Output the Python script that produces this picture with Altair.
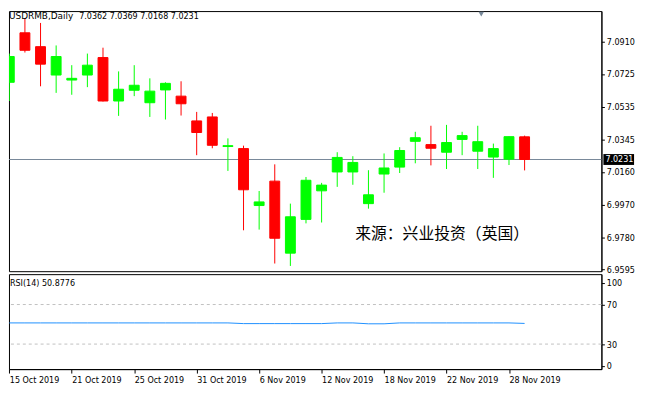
import altair as alt
import pandas as pd

# ---------------- data ----------------
dates = ["15 Oct 2019", "16 Oct 2019", "17 Oct 2019", "18 Oct 2019", "21 Oct 2019",
         "22 Oct 2019", "23 Oct 2019", "24 Oct 2019", "25 Oct 2019", "28 Oct 2019",
         "29 Oct 2019", "30 Oct 2019", "31 Oct 2019", "1 Nov 2019", "4 Nov 2019",
         "5 Nov 2019", "6 Nov 2019", "7 Nov 2019", "8 Nov 2019", "11 Nov 2019",
         "12 Nov 2019", "13 Nov 2019", "14 Nov 2019", "15 Nov 2019", "18 Nov 2019",
         "19 Nov 2019", "20 Nov 2019", "21 Nov 2019", "22 Nov 2019", "25 Nov 2019",
         "26 Nov 2019", "27 Nov 2019", "28 Nov 2019", "29 Nov 2019"]

opens = [7.0677, 7.0963, 7.0883, 7.0719, 7.0690, 7.0719, 7.0820, 7.0569, 7.0631, 7.0559,
         7.0633, 7.0597, 7.0454, 7.0477, 7.0306, 7.0294, 6.9965, 7.0106, 6.9690, 6.9885,
         7.0050, 7.0159, 7.0159, 6.9976, 7.0147, 7.0187, 7.0336, 7.0317, 7.0273, 7.0347,
         7.0279, 7.0245, 7.0233, 7.0362]
highs = [7.0843, 7.1043, 7.1020, 7.0890, 7.0776, 7.0843, 7.0877, 7.0740, 7.0776, 7.0700,
         7.0677, 7.0683, 7.0506, 7.0500, 7.0353, 7.0311, 7.0049, 7.0203, 6.9976, 7.0130,
         7.0096, 7.0273, 7.0250, 7.0169, 7.0266, 7.0302, 7.0391, 7.0426, 7.0431, 7.0391,
         7.0426, 7.0323, 7.0364, 7.0369]
lows = [7.0569, 7.0849, 7.0654, 7.0616, 7.0605, 7.0649, 7.0566, 7.0483, 7.0597, 7.0477,
        7.0462, 7.0485, 7.0256, 7.0296, 7.0165, 6.9822, 6.9826, 6.9630, 6.9616, 6.9862,
        6.9867, 7.0073, 7.0085, 6.9947, 7.0039, 7.0153, 7.0209, 7.0197, 7.0176, 7.0256,
        7.0176, 7.0125, 7.0199, 7.0168]
closes = [7.0826, 7.0862, 7.0782, 7.0826, 7.0700, 7.0776, 7.0569, 7.0637, 7.0660, 7.0626,
          7.0671, 7.0553, 7.0387, 7.0313, 7.0311, 7.0056, 6.9986, 6.9776, 6.9900, 7.0111,
          7.0083, 7.0243, 7.0214, 7.0027, 7.0182, 7.0283, 7.0357, 7.0296, 7.0329, 7.0369,
          7.0334, 7.0294, 7.0363, 7.0231]
rsi_values = [51.4, 51.4, 51.4, 51.4, 51.4, 51.4, 51.4, 51.4, 51.4, 51.4,
              51.4, 51.4, 51.4, 51.4, 51.4, 50.7, 50.7, 50.7, 50.7, 50.7,
              50.7, 51.4, 51.4, 50.5, 50.5, 51.4, 51.4, 51.4, 51.4, 51.4,
              51.4, 51.4, 51.4, 50.88]

price_ticks = [7.0910, 7.0725, 7.0535, 7.0345, 7.0160, 6.9970, 6.9780, 6.9595]
rsi_levels = [70, 30]
rsi_ticks = [8, 30, 70, 92]          # 8 and 92 carry the window's "0" and "100" labels
date_tick_idx = [0, 4, 8, 12, 16, 20, 24, 28, 32]
symbol = "USDRMB,Daily"
rsi_label = "RSI(14) 50.8776"
source_text = "来源：兴业投资（英国）"

# ---------------- frames ----------------
df = pd.DataFrame({"i": list(range(len(dates))), "date": dates, "open": opens,
                   "high": highs, "low": lows, "close": closes, "rsi": rsi_values})
df["dir"] = ["up" if c >= o else "down" for o, c in zip(opens, closes)]
last = pd.DataFrame({"p": [closes[-1]], "txt": [f"{closes[-1]:.4f}"]})
levels = pd.DataFrame({"level": rsi_levels})
one = pd.DataFrame({"a": [0]})

FONT = "DejaVu Sans Condensed"
W = 599
H_MAIN = 263
H_RSI = 96

xscale = alt.Scale(domain=[-0.02, 37.92], nice=False, zero=False, padding=0)
yscale = alt.Scale(domain=[6.95857, 7.10886], nice=False, zero=False, padding=0)
rscale = alt.Scale(domain=[4.7, 100.7], nice=False, zero=False, padding=0)

color_scale = alt.Scale(domain=["up", "down"], range=["#00FF00", "#FF0000"])

yaxis = alt.Axis(orient="right", values=price_ticks, format=".4f", tickSize=3,
                 labelPadding=2, title=None, grid=False)


def X(field="i"):
    return alt.X(f"{field}:Q", scale=xscale, axis=None)


def Y(field):
    return alt.Y(f"{field}:Q", scale=yscale, axis=yaxis)


price_line = alt.Chart(last).mark_rule(color="#778899", strokeWidth=1).encode(y=Y("p"))

wicks = alt.Chart(df).mark_rule(strokeWidth=1, clip=True).encode(
    x=X(), y=Y("low"), y2="high",
    color=alt.Color("dir:N", scale=color_scale, legend=None))

bodies = alt.Chart(df).mark_bar(size=10, strokeWidth=1, clip=True).encode(
    x=X(), y=Y("open"), y2="close",
    color=alt.Color("dir:N", scale=color_scale, legend=None),
    stroke=alt.Stroke("dir:N", scale=color_scale, legend=None))

header_sym = alt.Chart(one).mark_text(align="left", baseline="alphabetic",
                                      font="DejaVu Sans", fontSize=9, color="black").encode(
    x=alt.value(0), y=alt.value(8), text=alt.value(symbol))
header_ohlc = alt.Chart(one).mark_text(align="left", baseline="alphabetic", font=FONT,
                                       fontSize=9, color="black").encode(
    x=alt.value(71), y=alt.value(8),
    text=alt.value(f"{opens[-1]:.4f} {highs[-1]:.4f} {lows[-1]:.4f} {closes[-1]:.4f}"))

source = alt.Chart(one).mark_text(align="left", baseline="middle", font="Noto Sans CJK SC",
                                  fontSize=16, color="black").encode(
    x=alt.value(350), y=alt.value(225), text=alt.value(source_text))

shift_marker = alt.Chart(one).mark_point(shape="triangle-down", filled=True, size=30,
                                         color="#778899", opacity=1).encode(
    x=alt.value(477.5), y=alt.value(3))

price_box = alt.Chart(last).mark_rule(color="black", strokeWidth=11, strokeCap="butt").encode(
    y=Y("p"), x=alt.value(601), x2=alt.value(632))
price_txt = alt.Chart(last).mark_text(align="left", baseline="middle", font=FONT,
                                      fontSize=9, color="white").encode(
    y=Y("p"), x=alt.value(603), text="txt:N")

main = alt.layer(price_line, wicks, bodies, header_sym, header_ohlc, source, shift_marker,
                 price_box, price_txt).properties(width=W, height=H_MAIN)

# ---------------- RSI panel ----------------
label_array = "[" + ",".join(f"'{dates[k]}'" for k in range(len(dates))) + "]"
xaxis_r = alt.Axis(values=date_tick_idx, labelExpr=f"{label_array}[datum.value]",
                   labelAlign="left", labelFlush=False, labelOverlap=False,
                   tickSize=4, labelPadding=3, title=None, grid=False)
raxis = alt.Axis(orient="right", values=rsi_ticks, tickSize=3, labelPadding=2,
                 title=None, grid=False,
                 labelExpr="datum.value == 92 ? '100' : datum.value == 8 ? '0' : datum.label")


def XR():
    return alt.X("i:Q", scale=xscale, axis=xaxis_r)


def YR(field):
    return alt.Y(f"{field}:Q", scale=rscale, axis=raxis)


lvl = alt.Chart(levels).mark_rule(color="#C0C0C0", strokeDash=[3, 3], strokeWidth=1).encode(
    y=YR("level"))
rsi_line = alt.Chart(df).mark_line(color="#1E90FF", strokeWidth=1, clip=True).encode(
    x=XR(), y=YR("rsi"))
rsi_txt = alt.Chart(one).mark_text(align="left", baseline="alphabetic", font=FONT,
                                   fontSize=9, color="black").encode(
    x=alt.value(1), y=alt.value(12), text=alt.value(rsi_label))

rsi = alt.layer(lvl, rsi_line, rsi_txt).properties(width=W, height=H_RSI)

chart = alt.vconcat(main, rsi, spacing=3, bounds="flush").configure_view(
    stroke="black", strokeWidth=1
).configure_axis(
    labelFont=FONT, labelFontSize=9, labelColor="black", tickColor="black",
    domainColor="black", domainWidth=1
).properties(background="white", padding=0)

chart.save("out.html", embed_options={"renderer": "svg", "actions": False})
